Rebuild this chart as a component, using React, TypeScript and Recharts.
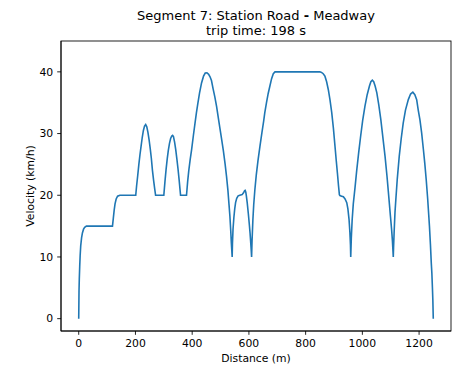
import React from "react";
import { LineChart, Line, XAxis, YAxis } from "recharts";

// distance along the segment (m)
const distance = [
  0, 1, 2, 3.5, 5, 7, 10, 13, 17, 21, 27, 119, 122, 125, 128, 132, 137, 145,
  201, 204, 208, 212, 216, 220, 224, 228, 232, 236, 240, 244, 248, 252, 256,
  260, 264, 268, 271, 300, 304, 308, 312, 316, 320, 324, 328, 331, 334, 338,
  342, 346, 350, 354, 357, 359, 380, 384, 388, 393, 398, 404, 410, 415, 420,
  426, 433, 440, 446, 452, 458, 463, 468, 474, 480, 486, 492, 498, 504, 510,
  516, 521, 526, 530, 533, 536, 538, 541, 542, 544, 547, 550, 553, 557, 562,
  568, 576, 581, 585, 587, 589, 591, 594, 598, 601, 604, 606, 608, 609.5, 611,
  614, 617, 621, 626, 632, 639, 646, 652, 656, 662, 668, 674, 680, 686, 692,
  850, 856, 862, 868, 874, 880, 886, 892, 898, 903.5, 908, 912, 916, 919, 921,
  927, 933, 939, 945, 949, 953, 956, 958, 959, 961, 964, 968, 974, 980, 987,
  994, 1001, 1009, 1017, 1025, 1030, 1035, 1040, 1045, 1051, 1058, 1065, 1072,
  1080, 1087, 1094, 1099, 1103, 1106, 1108, 1109, 1110, 1112, 1115, 1118, 1123,
  1130, 1137, 1144, 1152, 1162, 1170, 1178, 1185, 1191.5, 1197, 1203, 1209,
  1215, 1220, 1225, 1230, 1234, 1236.5, 1240, 1243, 1245, 1247, 1248.5, 1250,
];

// velocity (km/h)
const velocity = [
  0, 4.5, 6.4, 8.5, 10.2, 11.8, 13.1, 13.9, 14.5, 14.8, 15, 15, 16.3, 17.6,
  18.6, 19.4, 19.85, 20, 20, 21.5, 23.2, 25, 26.6, 28, 29.4, 30.5, 31.2, 31.45,
  31.1, 30.2, 29, 27.6, 26, 24, 22.4, 21, 20, 20, 22.2, 24.2, 25.9, 27.3, 28.4,
  29.2, 29.6, 29.7, 29.5, 28.6, 27.4, 25.9, 24.3, 22.5, 21, 20, 20, 22.2, 24,
  25.8, 27.4, 29.6, 31.7, 33.4, 34.9, 36.6, 38.2, 39.3, 39.8, 39.85, 39.6, 39.2,
  38.6, 37.2, 35.9, 34.4, 32.6, 30.8, 29, 27.2, 25.1, 23.1, 20.8, 18.4, 16.6,
  14.2, 12.3, 10, 12.2, 14.5, 16.4, 17.8, 18.8, 19.5, 19.9, 20, 20.1, 20.4,
  20.75, 20.8, 20.5, 19.9, 18.8, 17, 15.5, 13.9, 12.6, 11.2, 10, 12.5, 16,
  18.5, 20.9, 23.3, 25.6, 27.95, 30.2, 32, 33.4, 35, 36.5, 37.7, 38.9, 39.7, 40,
  40, 39.9, 39.7, 39.3, 38.4, 37.1, 35.4, 33.4, 30.8, 27.95, 25.6, 23.6, 21.5,
  20.1, 19.95, 19.85, 19.75, 19.4, 18.8, 17.8, 16.1, 14, 12, 10, 13, 16, 18.6,
  21.2, 24, 26.9, 29.6, 32.1, 34.4, 36.3, 37.7, 38.4, 38.65, 38.4, 37.7, 36.6,
  34.6, 32.3, 29.5, 26.3, 23, 19.3, 16.6, 14.5, 12.6, 10.9, 10, 11.5, 14, 17.2,
  19.3, 22.6, 26.3, 29.2, 31.7, 33.8, 35.5, 36.4, 36.7, 36.3, 35.5, 33.8, 32.2,
  30.1, 27.5, 25.2, 22.6, 19.6, 16.8, 15, 12, 9, 7.4, 5, 3, 0,
];

const xTicks = [0, 200, 400, 600, 800, 1000, 1200];
const yTicks = [0, 10, 20, 30, 40];

const rows = distance.map((d, i) => ({ d, v: velocity[i] }));

const font = "'DejaVu Sans', sans-serif";
const tickStyle = { fill: "#000", fontSize: 10.8, fontFamily: font };
const xDomain = [-62.5, 1312.5];
const yDomain = [-2, 45];

export default function App() {
  return (
    <div
      style={{
        position: "absolute",
        left: 0,
        top: 0,
        width: 454,
        height: 366,
        background: "#fff",
        fontFamily: font,
        color: "#000",
      }}
    >
      <div
        style={{
          position: "absolute",
          left: 61,
          width: 390,
          top: 8,
          textAlign: "center",
          fontSize: 13,
          lineHeight: "15.3px",
        }}
      >
        Segment 7: Station Road <span style={{ fontWeight: "bold" }}>-</span>{" "}
        Meadway
        <br />
        trip time: 198 s
      </div>
      <LineChart
        width={454}
        height={366}
        data={rows}
        margin={{ top: 41, right: 3, bottom: 0, left: 0 }}
      >
        <XAxis
          dataKey="d"
          type="number"
          domain={xDomain}
          ticks={xTicks}
          interval={0}
          allowDataOverflow
          height={35}
          tickSize={3.8}
          tickMargin={5}
          tick={tickStyle}
          axisLine={{ stroke: "#000", strokeWidth: 0.87 }}
          tickLine={{ stroke: "#000", strokeWidth: 0.87 }}
        />
        <YAxis
          type="number"
          domain={yDomain}
          ticks={yTicks}
          interval={0}
          allowDataOverflow
          width={61}
          tickSize={3.8}
          tickMargin={4}
          tick={tickStyle}
          axisLine={{ stroke: "#000", strokeWidth: 0.87 }}
          tickLine={{ stroke: "#000", strokeWidth: 0.87 }}
        />
        <Line
          dataKey="v"
          type="linear"
          stroke="#1f77b4"
          strokeWidth={1.6}
          dot={false}
          isAnimationActive={false}
        />
      </LineChart>
      {/* top and right spines */}
      <svg
        width={454}
        height={366}
        style={{ position: "absolute", left: 0, top: 0, pointerEvents: "none" }}
      >
        <rect
          x={61}
          y={41}
          width={390}
          height={290}
          fill="none"
          stroke="#000"
          strokeWidth={0.87}
        />
      </svg>
      <div
        style={{
          position: "absolute",
          left: 61,
          width: 390,
          top: 351.8,
          textAlign: "center",
          fontSize: 10.8,
          lineHeight: "13px",
        }}
      >
        Distance (m)
      </div>
      <div
        style={{
          position: "absolute",
          left: 30,
          top: 186,
          fontSize: 10.8,
          lineHeight: "13px",
          whiteSpace: "nowrap",
          transform: "translate(-50%, -50%) rotate(-90deg)",
        }}
      >
        Velocity (km/h)
      </div>
    </div>
  );
}
